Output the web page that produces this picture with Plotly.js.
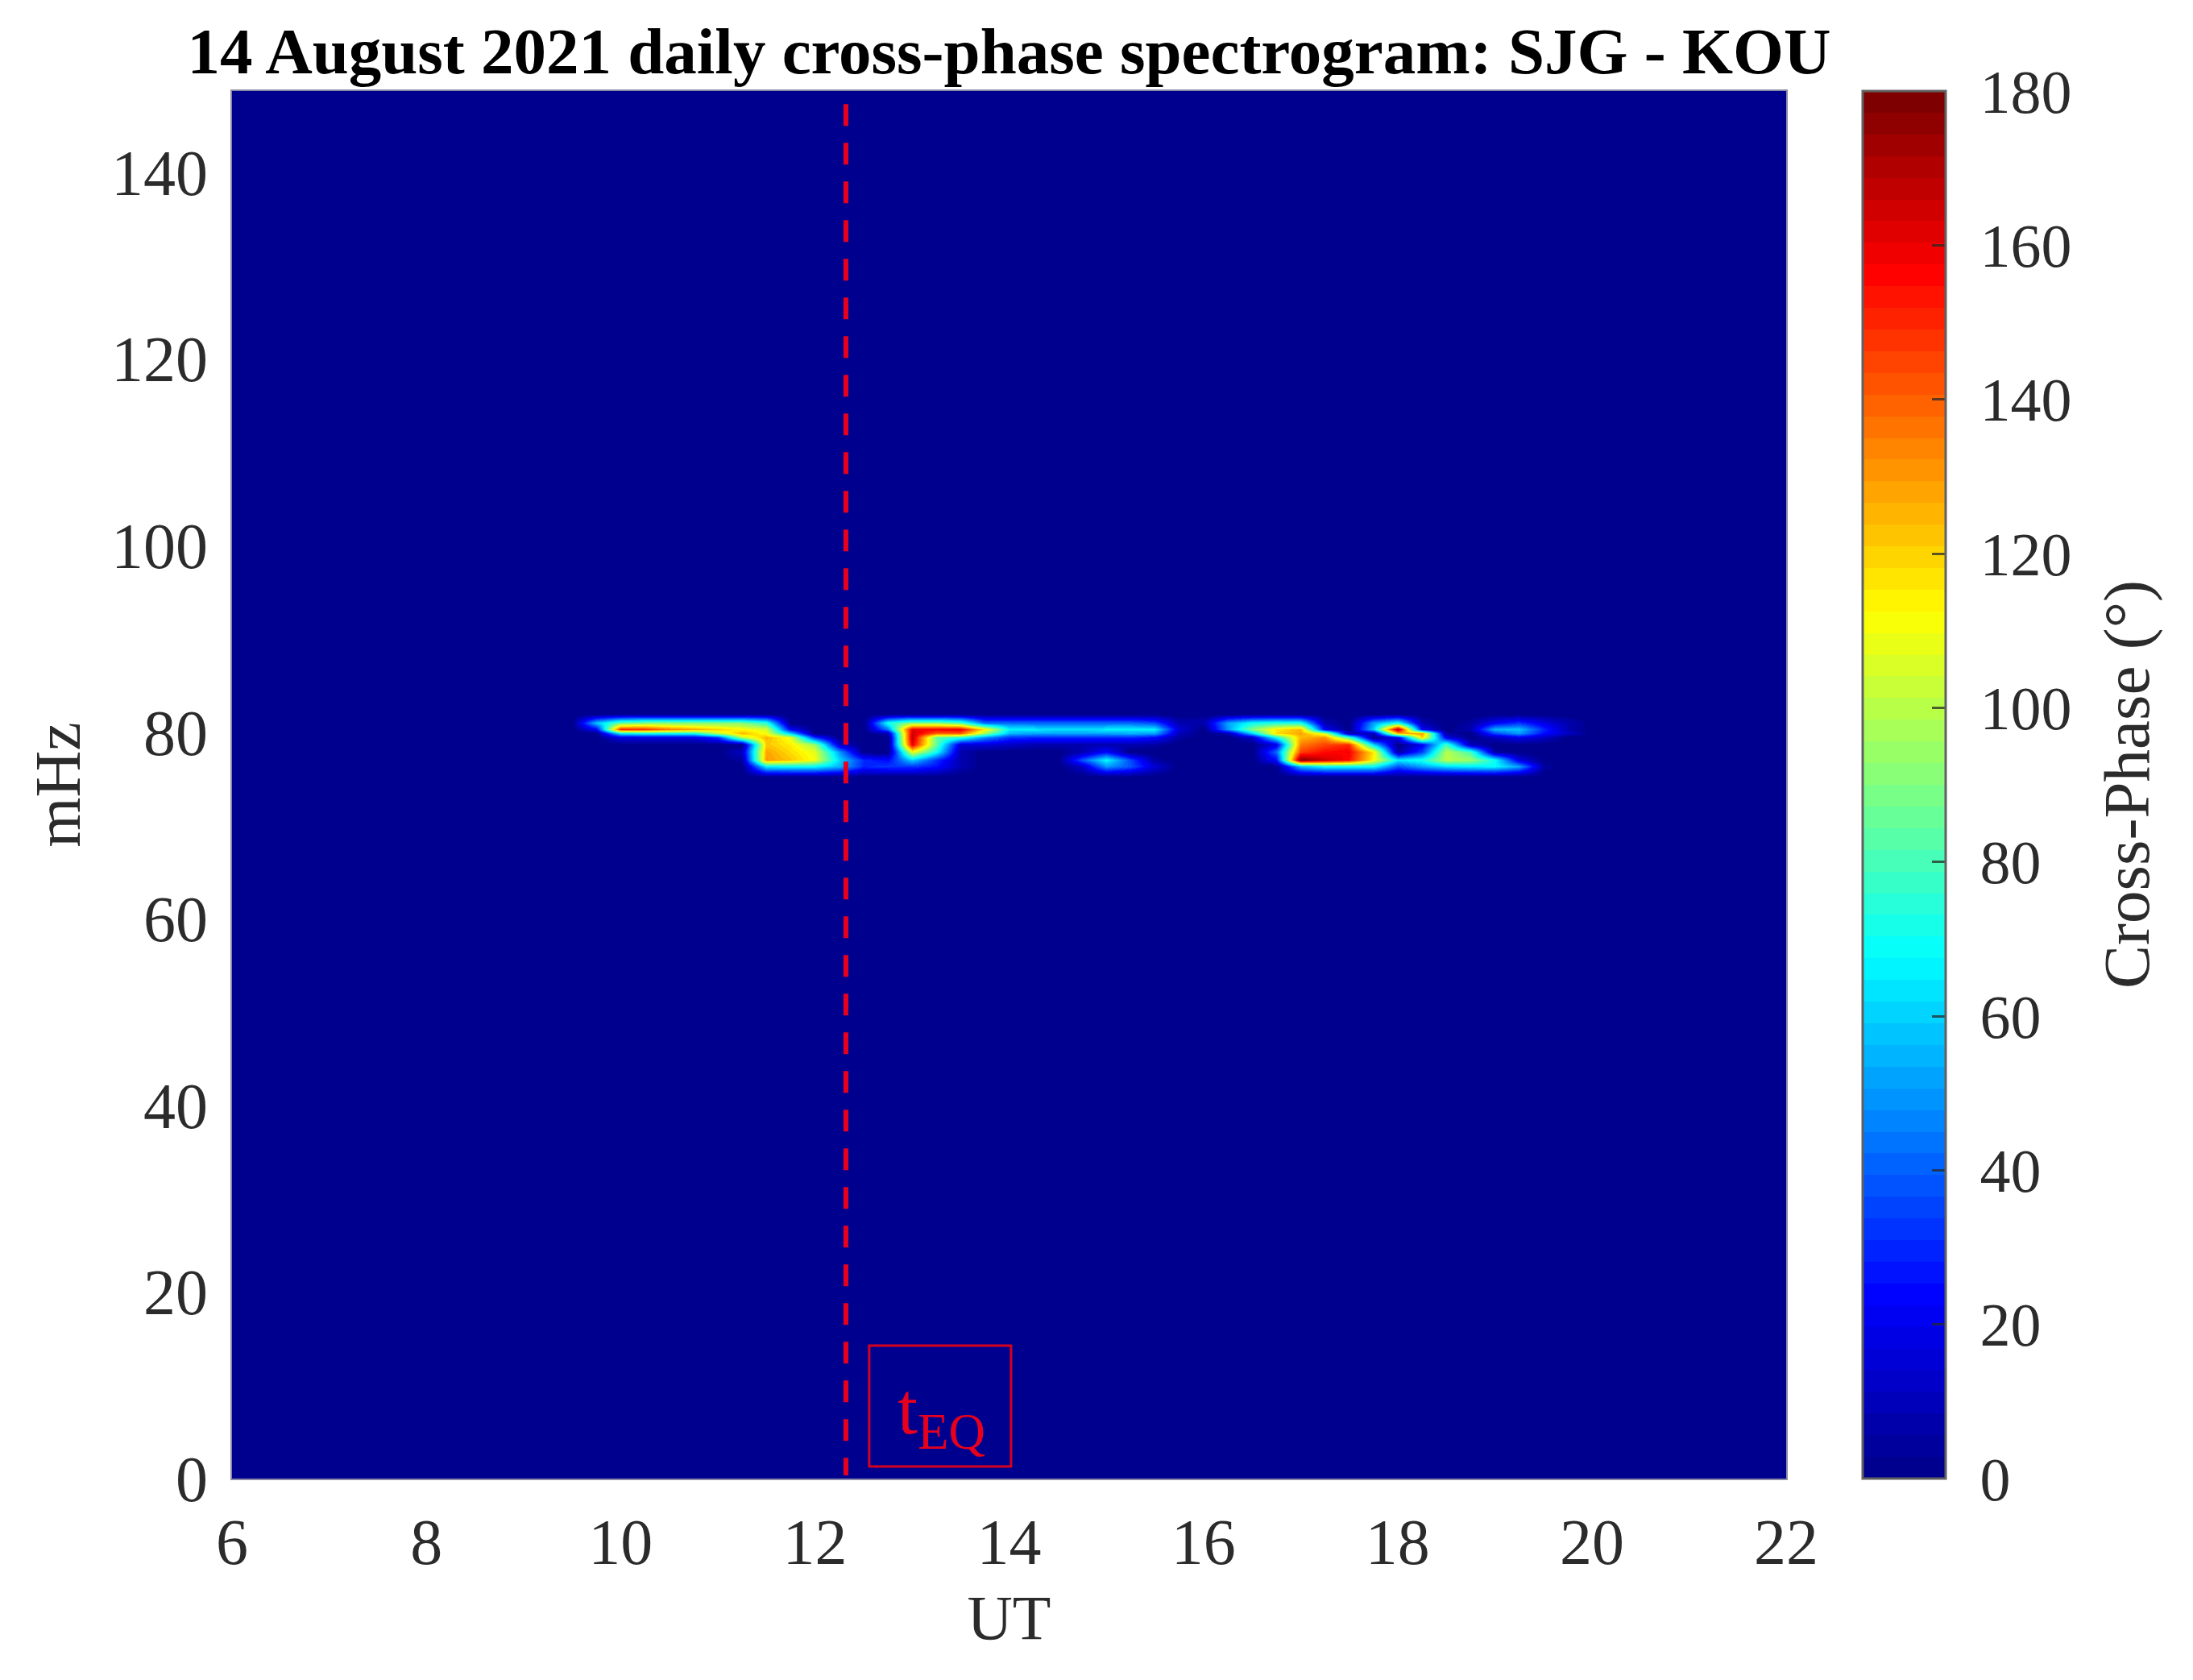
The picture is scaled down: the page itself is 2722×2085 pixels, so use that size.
<!DOCTYPE html>
<html><head><meta charset="utf-8">
<script src="https://cdn.plot.ly/plotly-3.0.1.min.js"></script>
<style>html,body{margin:0;padding:0;background:#fff}</style>
</head><body><div id="chart" style="width:2722px;height:2085px"></div>
<script>
const titleText = '14 August 2021 daily cross-phase spectrogram: SJG - KOU';
const colorbarTitle = 'Cross-Phase (°)';
const utHours = [6,
 9.5,9.75,10,10.25,10.5,10.75,11,11.25,11.5,11.75,
 12,12.25,12.5,12.75,13,13.25,13.5,13.75,14,14.25,
 14.5,14.75,15,15.25,15.5,15.75,16,16.25,16.5,16.75,
 17,17.25,17.5,17.75,18,18.25,18.5,18.75,19,19.25,
 19.5,19.75,20,22];
const freqMHz = [0,75.25,76.3,77.0,77.9,78.7,79.45,79.9,80.3,81.0,81.95,148.7];
const zeroRow = [0,
 0,0,0,0,0,0,0,0,0,0, 0,0,0,0,0,0,0,0,0,0, 0,0,0,0,0,0,0,0,0,0, 0,0,0,0,0,0,0,0,0,0, 0,0,0,0];
const phase763 = [0,
 0,0,0,0,0,0,0,0,66,68,
 68,55,30,33,33,26,8,0,0,0,
 0,12,50,38,15,0,0,0,0,0,
 56,68,68,68,38,52,62,66,68,52,
 5,0,0,0];
const phase770 = [0,
 0,0,0,0,0,0,0,5,130,122,
 110,60,30,24,60,32,8,0,0,0,
 0,38,68,36,5,0,0,0,0,25,
 178,165,155,112,65,72,100,95,70,18,
 0,0,0,0];
const phase779 = [0,
 0,0,0,0,0,0,0,12,128,118,
 108,50,0,0,110,70,8,0,0,0,
 0,8,24,0,0,0,0,0,0,42,
 145,155,158,115,5,35,100,80,5,0,
 0,0,0,0];
const phase787 = [0,
 0,0,0,0,0,0,0,0,122,115,
 95,12,0,0,160,85,14,16,12,8,
 8,8,8,8,5,0,0,0,0,18,
 135,145,150,60,0,20,80,10,0,0,
 0,0,0,0];
const phase7945 = [0,
 0,0,18,18,18,18,32,100,125,108,
 32,0,0,0,168,85,75,48,32,30,
 30,30,30,30,24,5,0,0,12,70,
 125,132,80,0,20,120,20,0,10,20,
 12,0,0,0];
const phase799 = [0,
 0,0,65,70,70,70,100,125,110,60,
 0,0,0,8,165,140,140,95,55,52,
 52,52,52,54,52,10,0,8,60,118,
 128,105,10,10,125,130,5,0,35,50,
 25,12,0,0];
const phase803 = [0,
 0,22,150,148,135,128,120,112,105,22,
 0,0,0,45,160,158,160,115,66,65,
 62,62,65,66,66,15,0,50,90,115,
 125,22,0,60,172,22,0,8,55,58,
 30,8,0,0];
const phase810 = [0,
 0,58,85,90,90,90,90,90,75,0,
 0,0,0,72,92,92,82,42,42,42,
 42,42,42,42,36,8,8,52,70,74,
 72,8,0,52,72,8,0,5,22,32,
 18,8,0,0];
const xTicks = [6,8,10,12,14,16,18,20,22];
const yTicks = [0,20,40,60,80,100,120,140];
const tEQ = 12.32;
const tEQBox = {x0:12.56,x1:14.02,y0:1.3,y1:14.25};
const jetStops = [[0,[0,0,143]],[1/8,[0,0,255]],[3/8,[0,255,255]],[5/8,[255,255,0]],[7/8,[255,0,0]],[1,[127,0,0]]];
const LEVELS = 64;

function jet(f){
  for(let i=1;i<jetStops.length;i++){
    if(f<=jetStops[i][0]){
      const a=jetStops[i-1],b=jetStops[i],t=(f-a[0])/(b[0]-a[0]);
      return 'rgb('+a[1].map((v,k)=>Math.round(v+(b[1][k]-v)*t)).join(',')+')';
    }
  }
  return 'rgb(127,0,0)';
}
const colorscale=[];
for(let i=0;i<LEVELS;i++){
  const c=jet(i/(LEVELS-1));
  colorscale.push([i/LEVELS,c]);colorscale.push([(i+1)/LEVELS,c]);
}

const serif='"Liberation Serif","Times New Roman",serif';
const ink='#2b2b2b';
const z=[zeroRow,zeroRow,phase763,phase770,phase779,phase787,phase7945,phase799,phase803,phase810,zeroRow,zeroRow];

const data=[{
  type:'heatmap',x:utHours,y:freqMHz,z:z,zmin:0,zmax:180,zsmooth:'best',
  colorscale:colorscale,hoverinfo:'skip',
  colorbar:{
    thickness:103,thicknessmode:'pixels',len:1,lenmode:'fraction',
    x:1.0493,xanchor:'left',xpad:0,y:0.5,yanchor:'middle',ypad:0,
    outlinecolor:'#606060',outlinewidth:3,
    tickmode:'linear',tick0:0,dtick:20,tickprefix:'\u00a0\u200a',
    ticks:'inside',ticklen:18,tickwidth:3,tickcolor:'rgba(40,40,40,0.75)',
    tickfont:{family:serif,size:76,color:ink}
  }
}];
const layout={
  width:2722,height:2085,paper_bgcolor:'#fff',plot_bgcolor:'#00008f',
  margin:{l:288,r:505,t:113,b:250,pad:0},
  showlegend:false,
  title:{text:'<b>'+titleText+'</b>',font:{family:serif,size:81,color:'#000'},xref:'paper',x:0.5,xanchor:'center',yref:'container',y:0.9835,yanchor:'top'},
  xaxis:{range:[6,22],tickmode:'array',tickvals:xTicks,ticktext:xTicks.map(String),ticks:'outside',ticklen:8,tickcolor:'rgba(0,0,0,0)',
    tickfont:{family:serif,size:80,color:ink},showgrid:false,zeroline:false,showline:true,linecolor:'#8a8aa8',linewidth:2,mirror:true,
    title:{text:'UT',font:{family:serif,size:78,color:ink},standoff:22}},
  yaxis:{range:[0,148.7],tickmode:'array',tickvals:yTicks,ticktext:yTicks.map(String),ticks:'outside',ticklen:12,tickcolor:'rgba(0,0,0,0)',
    tickfont:{family:serif,size:80,color:ink},showgrid:false,zeroline:false,showline:true,linecolor:'#8a8aa8',linewidth:2,mirror:true,
    title:{text:'mHz',font:{family:serif,size:80,color:ink},standoff:12}},
  shapes:[
    {type:'line',xref:'x',yref:'y',x0:tEQ,x1:tEQ,y0:147.3,y1:0.35,line:{color:'#e6001e',width:6,dash:'27px,21px'}},
    {type:'rect',xref:'x',yref:'y',x0:tEQBox.x0,x1:tEQBox.x1,y0:tEQBox.y0,y1:tEQBox.y1,line:{color:'#d6001c',width:3},fillcolor:'rgba(0,0,0,0)'}
  ],
  annotations:[
    {xref:'x',yref:'y',x:13.3,y:6.9,text:'t<sub>EQ</sub>',showarrow:false,xanchor:'center',yanchor:'middle',
     font:{family:serif,size:90,color:'#e6001e'}},
    {xref:'paper',yref:'paper',x:1.2193,y:0.5,text:colorbarTitle,textangle:-90,showarrow:false,xanchor:'center',yanchor:'middle',
     font:{family:serif,size:81,color:ink}}
  ]
};
Plotly.newPlot('chart',data,layout,{displayModeBar:false,staticPlot:true});
</script></body></html>
